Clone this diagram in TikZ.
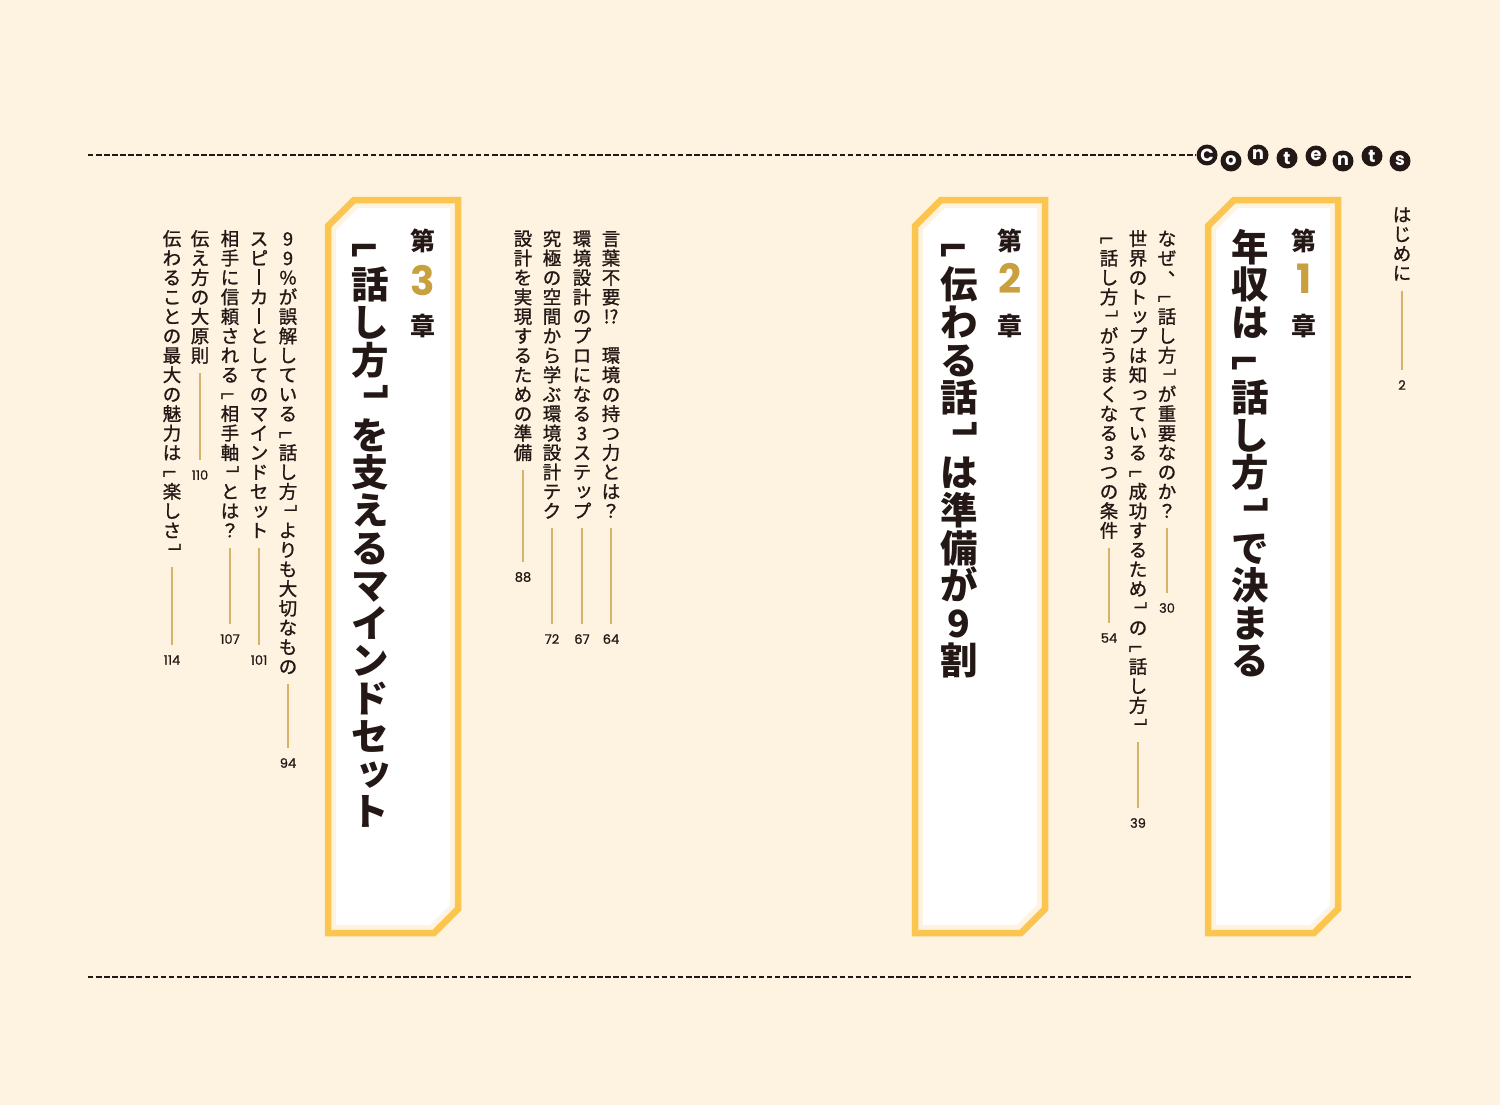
\documentclass[tikz,border=0pt]{standalone}
\usepackage{fontspec}
\usepackage{tikz}
\usetikzlibrary{positioning}

\newfontfamily\jp{Noto Sans CJK JP}
\newfontfamily\jpmed[FakeBold=1.2]{Noto Sans CJK JP}
\newfontfamily\numfont{Poppins}
\newfontfamily\pagefont[FakeBold=0.8]{Poppins}

\definecolor{bgcream}{HTML}{FEF3E0}
\definecolor{frameyellow}{HTML}{FBC550}
\definecolor{gold}{HTML}{C9A040}
\definecolor{leadergold}{HTML}{D6B26A}
\definecolor{ink}{HTML}{231815}

% vertical text: one cell per character
\makeatletter
\newdimen\tategap
\newcommand\tate[1]{%
  \vbox{\offinterlineskip
    \@tfor\tate@c:=#1\do{%
      \hbox to 1em{\vrule height .88em depth .12em width 0pt\hss\smash{\tate@c}\hss}%
      \kern\tategap}%
    \kern-\tategap}}
\makeatother
\newcommand\tatecell[1]{\hbox to 1em{\vrule height .88em depth .12em width 0pt\hss#1\hss}}
\newcommand\obr{\raisebox{.2em}{\reflectbox{\rotatebox[origin=c]{-90}{\tatecell{「}}}}}
\newcommand\cbr{\raisebox{-.15em}{\reflectbox{\rotatebox[origin=c]{-90}{\tatecell{」}}}}}
\newcommand\tcomma{\raisebox{.5em}{\kern1.1em、}}
\newcommand\smallkana[1]{\raisebox{.08em}{\kern.2em#1}}
\newcommand\chouon{\vrule width .08em height .82em depth .04em}

\tikzset{
  item/.style={anchor=north, inner sep=0pt, text=ink,
    font=\jpmed\fontsize{10.5pt}{12pt}\selectfont, execute at begin node={\tategap=0.57pt}},
  title/.style={anchor=north, inner sep=0pt, text=ink,
    font=\jp\bfseries\fontsize{21.3pt}{24pt}\selectfont, execute at begin node={\tategap=0.1pt}},
  chapword/.style={anchor=north, inner sep=0pt, text=ink, font=\jp\bfseries\fontsize{14.2pt}{16pt}\selectfont},
  chapnum/.style={inner sep=0pt, text=gold, text height=0.7em, text depth=0pt,
    font=\numfont\bfseries\fontsize{23pt}{26pt}\selectfont},
  pnum/.style={inner sep=0pt, text=ink, font=\pagefont\fontsize{7.4pt}{8pt}\selectfont},
  leader/.style={draw=leadergold, line width=0.7pt, shorten >=5.5pt},
  frame/.style={draw=frameyellow, line width=3.7pt, fill=bgcream},
  badge/.style={circle, fill=ink, text=white, inner sep=0pt, minimum size=0.42cm,
    font=\numfont\bfseries\fontsize{10pt}{10pt}\selectfont},
  rule/.style={draw=ink, line width=0.75pt, dash pattern=on 3.1pt off 1.5pt}
}

\begin{document}
\begin{tikzpicture}[x=0.02cm,y=-0.02cm]
  \fill[bgcream] (0,0) rectangle (1500,1105);
  \useasboundingbox (0,0) rectangle (1500,1105);

  % Contents
  \foreach \ch/\cx/\cy [count=\k] in {C/1207/155,o/1231/161,n/1258/155,t/1287/158,
      e/1316/156,n/1343/161,t/1372/156,s/1400/161}
    \node[badge] (b\k) at (\cx,\cy) {\ch};
  \coordinate (topL) at (88,155);
  \coordinate (botL) at (88,977);
  \coordinate (botR) at (1412,977);
  \draw[rule] (topL) -- (b1.west);
  \draw[rule] (botL) -- (botR);

  % chapter boxes
  \foreach \bx in {328,915,1208}{
    \draw[frame] (\bx,226) -- (\bx+26,200) -- (\bx+130,200) -- (\bx+130,909)
      -- (\bx+106,933) -- (\bx,933) -- cycle;
    \fill[white] (\bx+8,230) -- (\bx+30,208) -- (\bx+122,208) -- (\bx+122,905)
      -- (\bx+102,925) -- (\bx+8,925) -- cycle;
  }

  % intro
  \node[item] (i0) at (1402,205) {\tate{はじめに}};
  \node[pnum] (p0) at (1402,385) {2};
  \draw[leader] (i0.south) ++(0,8) -- (p0.north);

  % chapter 1
  \node[chapword] (d1) at (1304,229) {第};
  \node[chapnum] (n1) at (1304,287) {1};
  \node[chapword] (s1) at (1304,314) {章};
  \node[title] (t1) at (1250,228) {\tate{年収は\obr 話し方\cbr で決まる}};

  \node[item] (i11) at (1167,229) {\tate{なぜ\tcomma\obr 話し方\cbr が重要なのか？}};
  \node[item] (i12) at (1138,229) {\tate{世界のト{\smallkana ッ}プは知{\smallkana っ}ている\obr 成功するため\cbr の\obr 話し方\cbr}};
  \node[item] (i13) at (1109,229) {\tate{\obr 話し方\cbr がうまくなる3つの条件}};
  \node[pnum] (p11) at (1167,608) {30};
  \node[pnum] (p12) at (1138,823) {39};
  \node[pnum] (p13) at (1109,638) {54};
  \draw[leader] (i11.south) ++(0,8) -- (p11.north);
  \draw[leader] (i12.south) ++(0,8) -- (p12.north);
  \draw[leader] (i13.south) ++(0,8) -- (p13.north);

  % chapter 2
  \node[chapword] (d2) at (1010,229) {第};
  \node[chapnum] (n2) at (1010,287) {2};
  \node[chapword] (s2) at (1010,314) {章};
  \node[title] (t2) at (959,228) {\tate{\obr 伝わる話\cbr は準備が9割}};

  \node[item] (i21) at (611,229) {\tate{言葉不要{!?}　環境の持つ力とは？}};
  \node[item] (i22) at (582,229) {\tate{環境設計のプロになる3ステ{\smallkana ッ}プ}};
  \node[item] (i23) at (552,229) {\tate{究極の空間から学ぶ環境設計テク}};
  \node[item] (i24) at (523,229) {\tate{設計を実現するための準備}};
  \node[pnum] (p21) at (611,639) {64};
  \node[pnum] (p22) at (582,639) {67};
  \node[pnum] (p23) at (552,639) {72};
  \node[pnum] (p24) at (523,577) {88};
  \foreach \k in {1,...,4}
    \draw[leader] (i2\k.south) ++(0,8) -- (p2\k.north);

  % chapter 3
  \node[chapword] (d3) at (423,229) {第};
  \node[chapnum] (n3) at (423,289) {3};
  \node[chapword] (s3) at (423,314) {章};
  \node[title] (t3) at (370,228) {\tate{\obr 話し方\cbr を支えるマインドセ{\smallkana ッ}ト}};

  \node[item] (i31) at (288,229) {\tate{99\%が誤解している\obr 話し方\cbr よりも大切なもの}};
  \node[item] (i32) at (259,229) {\tate{スピ\chouon カ\chouon としてのマインドセ{\smallkana ッ}ト}};
  \node[item] (i33) at (230,229) {\tate{相手に信頼される\obr 相手軸\cbr とは？}};
  \node[item] (i34) at (200,229) {\tate{伝え方の大原則}};
  \node[item] (i35) at (172,229) {\tate{伝わることの最大の魅力は\obr 楽しさ\cbr}};
  \node[pnum] (p31) at (288,763) {94};
  \node[pnum] (p32) at (259,660) {101};
  \node[pnum] (p33) at (230,639) {107};
  \node[pnum] (p34) at (200,475) {110};
  \node[pnum] (p35) at (172,660) {114};
  \foreach \k in {1,...,5}
    \draw[leader] (i3\k.south) ++(0,8) -- (p3\k.north);
\end{tikzpicture}
\end{document}
